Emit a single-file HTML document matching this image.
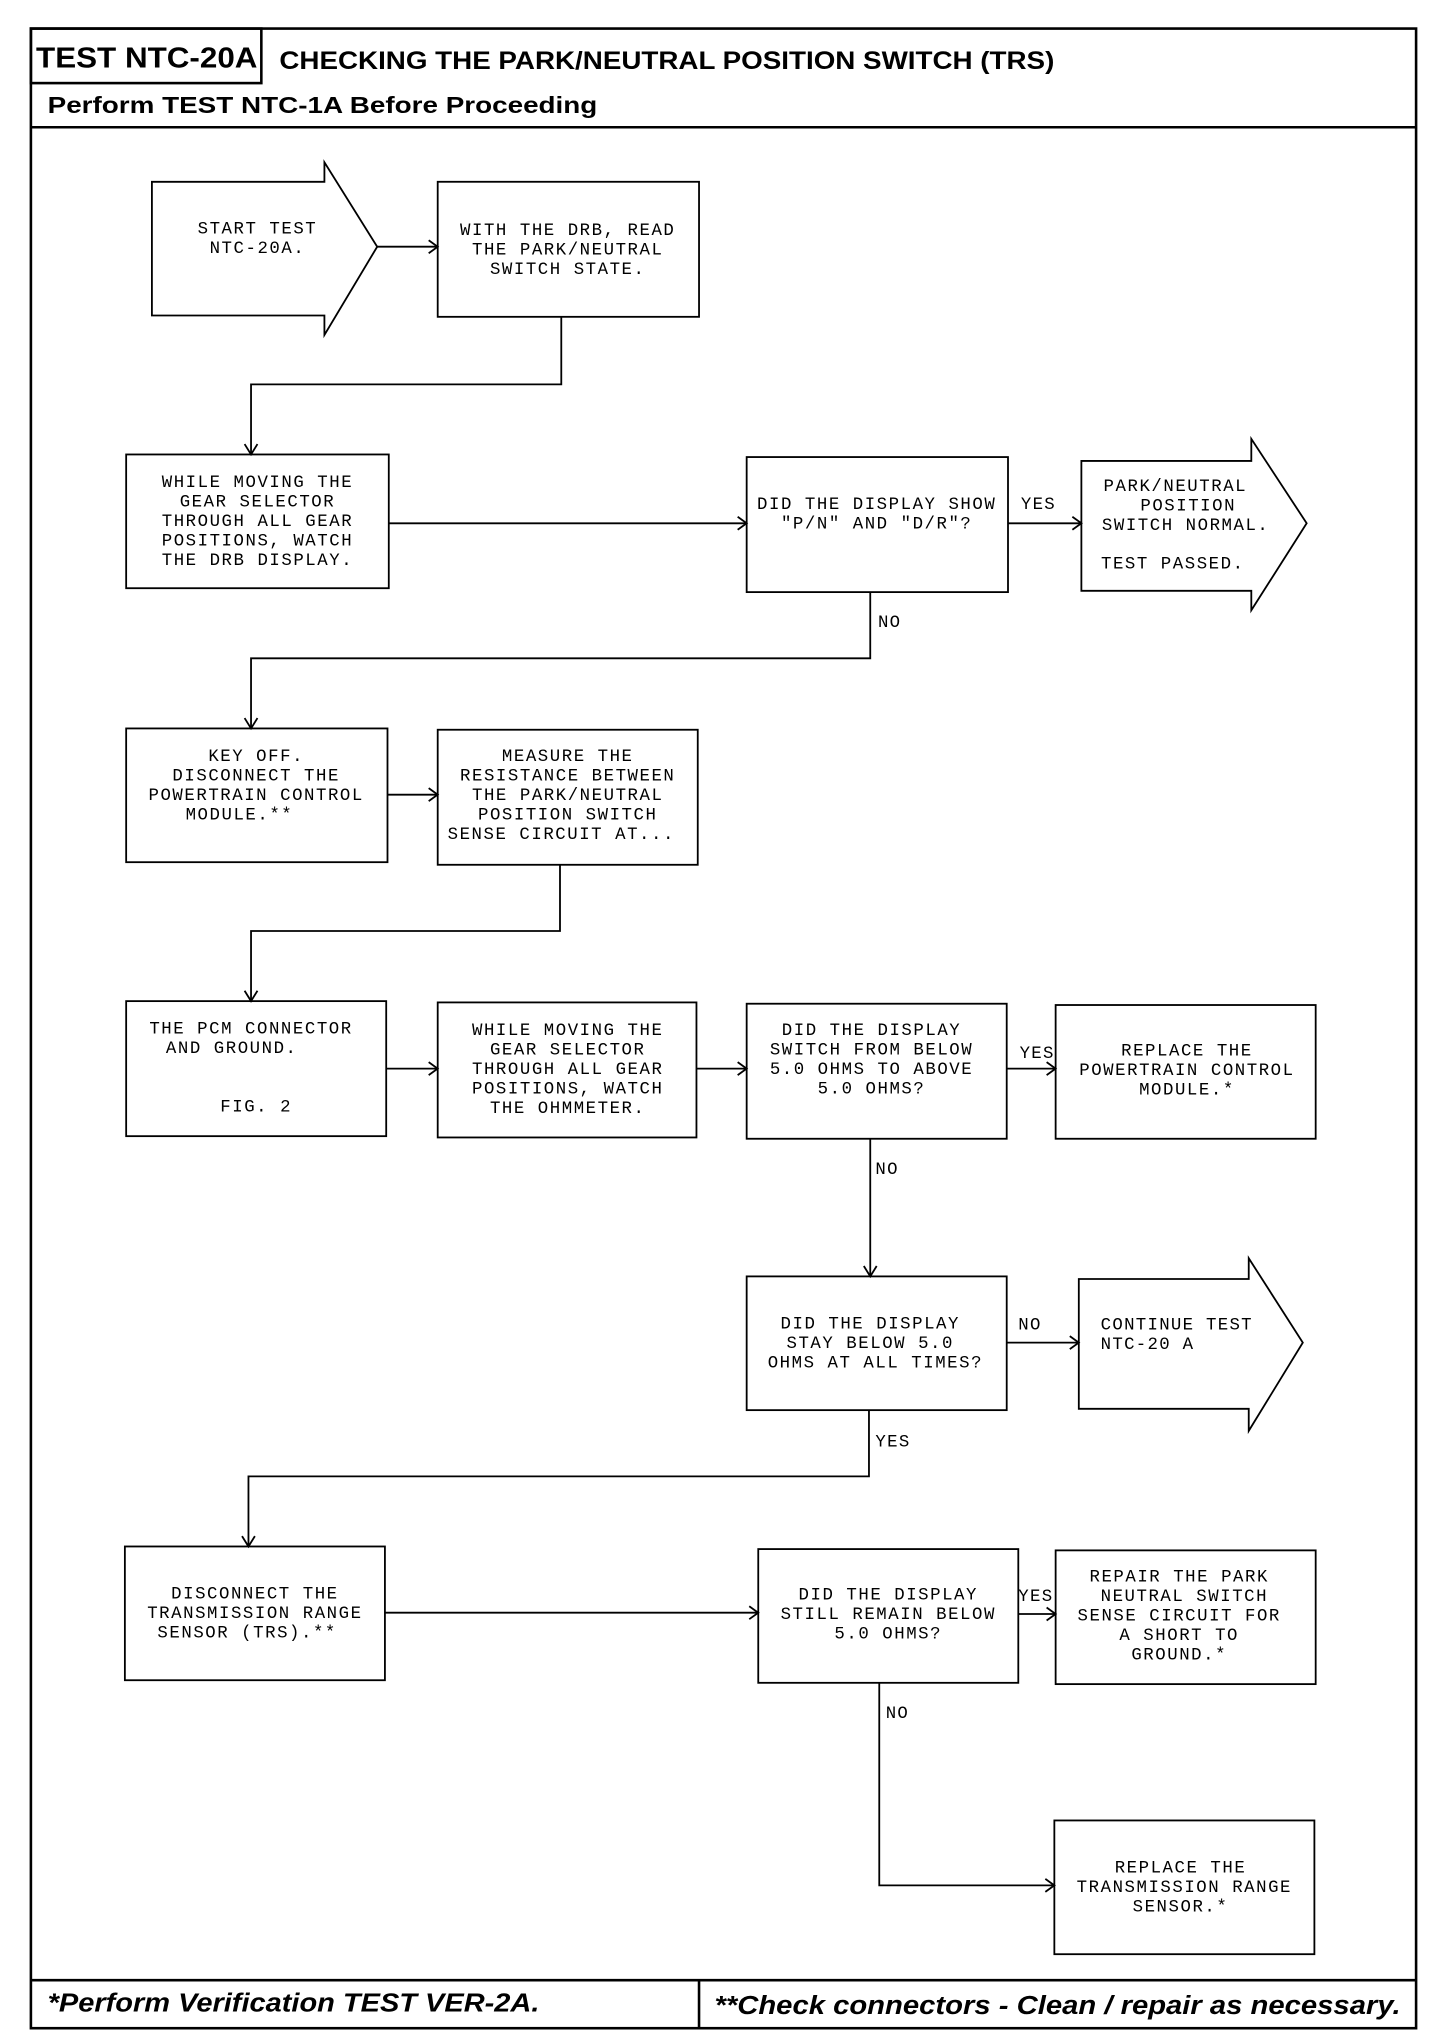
<!DOCTYPE html>
<html><head><meta charset="utf-8"><style>
html,body{margin:0;padding:0;background:#fff;}
svg{display:block;}
.m{font-family:"Liberation Mono",monospace;font-size:13.5px;letter-spacing:1.2px;fill:#000;text-anchor:middle;}
.l{font-family:"Liberation Mono",monospace;font-size:13.5px;letter-spacing:1px;fill:#000;}
.h{font-family:"Liberation Sans",sans-serif;font-weight:bold;fill:#000;}
</style></head><body>
<svg width="1456" height="2036" viewBox="0 0 1131 1568" preserveAspectRatio="none" xmlns="http://www.w3.org/2000/svg">
<g fill="none" stroke="#000" stroke-width="2">
<rect x="24" y="22" width="1076" height="1540"/>
<rect x="24" y="22" width="179" height="42"/>
<line x1="24" y1="98" x2="1100" y2="98"/>
<line x1="24" y1="1525" x2="1100" y2="1525"/>
<line x1="543" y1="1525" x2="543" y2="1562"/>
</g>
<text class="h" x="28" y="52" font-size="22" textLength="172" lengthAdjust="spacingAndGlyphs">TEST NTC-20A</text>
<text class="h" x="217" y="53" font-size="19" textLength="602" lengthAdjust="spacingAndGlyphs">CHECKING THE PARK/NEUTRAL POSITION SWITCH (TRS)</text>
<text class="h" x="37" y="87" font-size="18" textLength="427" lengthAdjust="spacingAndGlyphs">Perform TEST NTC-1A Before Proceeding</text>
<text class="h" x="37" y="1549" font-size="20" font-style="italic" textLength="382" lengthAdjust="spacingAndGlyphs">*Perform Verification TEST VER-2A.</text>
<text class="h" x="555" y="1551" font-size="20" font-style="italic" textLength="533" lengthAdjust="spacingAndGlyphs">**Check connectors - Clean / repair as necessary.</text>

<g fill="none" stroke="#000" stroke-width="1.4">
<polygon points="118,140 252,140 252,125 293,190 252,258 252,243 118,243"/>
<rect x="340" y="140" width="203" height="104"/>
<rect x="98" y="350" width="204" height="103"/>
<rect x="580" y="352" width="203" height="104"/>
<polygon points="840,355 972,355 972,338 1015,403 972,470 972,455 840,455"/>
<rect x="98" y="561" width="203" height="103"/>
<rect x="340" y="562" width="202" height="104"/>
<rect x="98" y="771" width="202" height="104"/>
<rect x="340" y="772" width="201" height="104"/>
<rect x="580" y="773" width="202" height="104"/>
<rect x="820" y="774" width="202" height="103"/>
<rect x="580" y="983" width="202" height="103"/>
<polygon points="838,985 970,985 970,969 1012,1034 970,1102 970,1085 838,1085"/>
<rect x="97" y="1191" width="202" height="103"/>
<rect x="589" y="1193" width="202" height="103"/>
<rect x="820" y="1194" width="202" height="103"/>
<rect x="819" y="1402" width="202" height="103"/>
<!-- connectors -->
<polyline points="293,190 340,190"/>
<polyline points="436,244 436,296 195,296 195,350"/>
<polyline points="302,403 580,403"/>
<polyline points="783,403 840,403"/>
<polyline points="676,456 676,507 195,507 195,561"/>
<polyline points="301,612 340,612"/>
<polyline points="435,666 435,717 195,717 195,771"/>
<polyline points="300,823 340,823"/>
<polyline points="541,823 580,823"/>
<polyline points="782,823 820,823"/>
<polyline points="676,877 676,983"/>
<polyline points="782,1034 838,1034"/>
<polyline points="675,1086 675,1137 193,1137 193,1191"/>
<polyline points="299,1242 589,1242"/>
<polyline points="791,1243 820,1243"/>
<polyline points="683,1296 683,1452 819,1452"/>
<!-- arrowheads -->
<polyline points="333,185 340,190 333,195"/>
<polyline points="190,342 195,350 200,342"/>
<polyline points="573,398 580,403 573,408"/>
<polyline points="833,398 840,403 833,408"/>
<polyline points="190,553 195,561 200,553"/>
<polyline points="333,607 340,612 333,617"/>
<polyline points="190,763 195,771 200,763"/>
<polyline points="333,818 340,823 333,828"/>
<polyline points="573,818 580,823 573,828"/>
<polyline points="813,818 820,823 813,828"/>
<polyline points="671,975 676,983 681,975"/>
<polyline points="831,1029 838,1034 831,1039"/>
<polyline points="188,1183 193,1191 198,1183"/>
<polyline points="582,1237 589,1242 582,1247"/>
<polyline points="813,1238 820,1243 813,1248"/>
<polyline points="812,1447 819,1452 812,1457"/>
</g>

<g class="m">
<text x="200" y="180">START TEST</text><text x="200" y="195">NTC-20A.</text>
<text x="441" y="181">WITH THE DRB, READ</text><text x="441" y="196">THE PARK/NEUTRAL</text><text x="441" y="211">SWITCH STATE.</text>
<text x="200" y="375">WHILE MOVING THE</text><text x="200" y="390">GEAR SELECTOR</text><text x="200" y="405">THROUGH ALL GEAR</text><text x="200" y="420">POSITIONS, WATCH</text><text x="200" y="435">THE DRB DISPLAY.</text>
<text x="681" y="392">DID THE DISPLAY SHOW</text><text x="681" y="407">"P/N" AND "D/R"?</text>
<text x="913" y="378">PARK/NEUTRAL</text><text x="923" y="393">POSITION</text><text x="921" y="408">SWITCH NORMAL.</text><text x="911" y="438">TEST PASSED.</text>
<text x="199" y="586">KEY OFF.</text><text x="199" y="601">DISCONNECT THE</text><text x="199" y="616">POWERTRAIN CONTROL</text><text x="186" y="631">MODULE.**</text>
<text x="441" y="586">MEASURE THE</text><text x="441" y="601">RESISTANCE BETWEEN</text><text x="441" y="616">THE PARK/NEUTRAL</text><text x="441" y="631">POSITION SWITCH</text><text x="436" y="646">SENSE CIRCUIT AT...</text>
<text x="195" y="796">THE PCM CONNECTOR</text><text x="180" y="811">AND GROUND.</text><text x="199" y="856">FIG. 2</text>
<text x="441" y="797">WHILE MOVING THE</text><text x="441" y="812">GEAR SELECTOR</text><text x="441" y="827">THROUGH ALL GEAR</text><text x="441" y="842">POSITIONS, WATCH</text><text x="441" y="857">THE OHMMETER.</text>
<text x="677" y="797">DID THE DISPLAY</text><text x="677" y="812">SWITCH FROM BELOW</text><text x="677" y="827">5.0 OHMS TO ABOVE</text><text x="677" y="842">5.0 OHMS?</text>
<text x="922" y="813">REPLACE THE</text><text x="922" y="828">POWERTRAIN CONTROL</text><text x="922" y="843">MODULE.*</text>
<text x="676" y="1023">DID THE DISPLAY</text><text x="676" y="1038">STAY BELOW 5.0</text><text x="680" y="1053">OHMS AT ALL TIMES?</text>
<text x="198" y="1231">DISCONNECT THE</text><text x="198" y="1246">TRANSMISSION RANGE</text><text x="192" y="1261">SENSOR (TRS).**</text>
<text x="690" y="1232">DID THE DISPLAY</text><text x="690" y="1247">STILL REMAIN BELOW</text><text x="690" y="1262">5.0 OHMS?</text>
<text x="916" y="1218">REPAIR THE PARK</text><text x="920" y="1233">NEUTRAL SWITCH</text><text x="916" y="1248">SENSE CIRCUIT FOR</text><text x="916" y="1263">A SHORT TO</text><text x="916" y="1278">GROUND.*</text>
<text x="917" y="1442">REPLACE THE</text><text x="920" y="1457">TRANSMISSION RANGE</text><text x="917" y="1472">SENSOR.*</text>
</g>
<g class="l">
<text x="855" y="1024">CONTINUE TEST</text><text x="855" y="1039">NTC-20 A</text>
<text x="793" y="392">YES</text>
<text x="682" y="483">NO</text>
<text x="792" y="815">YES</text>
<text x="680" y="904">NO</text>
<text x="791" y="1024">NO</text>
<text x="680" y="1114">YES</text>
<text x="791" y="1233">YES</text>
<text x="688" y="1323">NO</text>
</g>
</svg>
</body></html>
